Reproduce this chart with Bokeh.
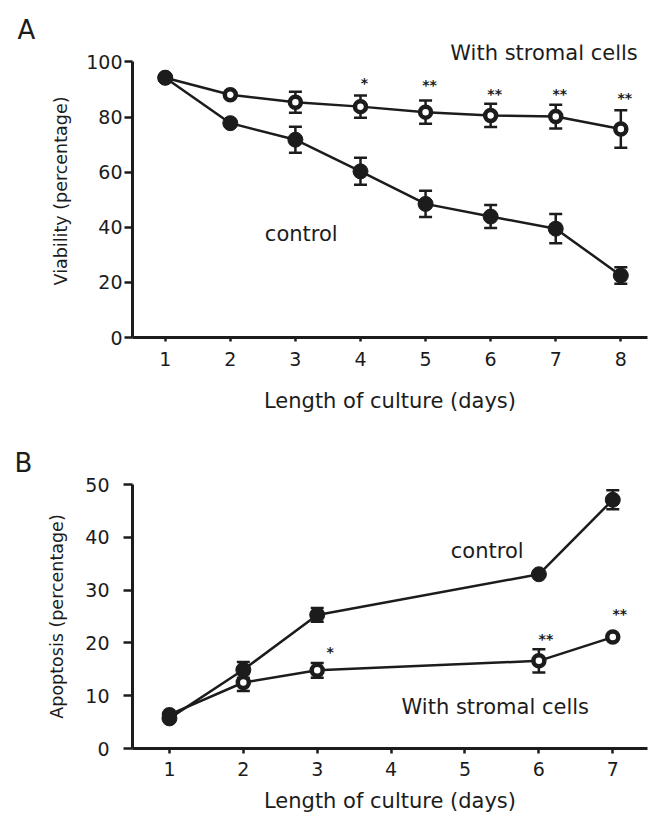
from bokeh.plotting import figure
from bokeh.models import ColumnDataSource, Whisker, TeeHead, Label, FixedTicker, Range1d, Title
from bokeh.layouts import column
from bokeh.embed import file_html
from bokeh.resources import INLINE
from bokeh.core.properties import value

# ---------------- data ----------------
# Panel A: viability (%)
days_a = [1, 2, 3, 4, 5, 6, 7, 8]
stromal_a = [94.3, 88.1, 85.4, 83.8, 81.8, 80.6, 80.2, 75.7]
stromal_a_err = [0, 0, 3.8, 4.0, 4.2, 4.2, 4.3, 6.8]
control_a = [94.3, 77.8, 71.8, 60.3, 48.5, 43.9, 39.5, 22.5]
control_a_err = [0, 0, 4.7, 4.9, 4.8, 4.2, 5.3, 3.0]
stars_a_days = [4, 5, 6, 7, 8]
stars_a_y = [92.4, 91.5, 88.4, 88.4, 86.9]
stars_a_text = ["*", "**", "**", "**", "**"]
yticks_a = [0, 20, 40, 60, 80, 100]

# Panel B: apoptosis (%)
days_b = [1, 2, 3, 6, 7]
control_b = [5.7, 14.9, 25.3, 33.0, 47.1]
control_b_err = [0, 1.5, 1.3, 0, 1.8]
stromal_b = [6.4, 12.5, 14.8, 16.6, 21.1]
stromal_b_err = [0, 1.6, 1.4, 2.2, 0]
stars_b_days = [3, 6, 7]
stars_b_y = [18.2, 20.8, 25.5]
stars_b_text = ["*", "**", "**"]
xticks_b = [1, 2, 3, 4, 5, 6, 7]
yticks_b = [0, 10, 20, 30, 40, 50]

FONT = "DejaVu Sans"
INK = "#1c1c1c"


def style_axes(p, xticks, yticks, xlabel, ylabel, y_tick_out, y_standoff, y_label_standoff,
               x_tick_out, x_standoff, x_label_standoff, y_bounds):
    p.outline_line_color = None
    p.xgrid.visible = False
    p.ygrid.visible = False
    p.background_fill_color = "white"
    p.border_fill_color = "white"
    for ax in (p.xaxis[0], p.yaxis[0]):
        ax.axis_line_width = 3
        ax.axis_line_color = INK
        ax.major_tick_line_color = INK
        ax.major_tick_line_width = 2.5
        ax.major_tick_in = 0
        ax.minor_tick_in = 0
        ax.minor_tick_out = 0
        ax.major_label_text_font = FONT
        ax.major_label_text_font_size = "19px"
        ax.major_label_text_color = INK
        ax.axis_label_text_font = FONT
        ax.axis_label_text_font_style = "normal"
        ax.axis_label_text_color = INK
    xa = p.xaxis[0]
    xa.ticker = FixedTicker(ticks=xticks)
    xa.major_tick_out = x_tick_out
    xa.major_label_standoff = x_standoff
    xa.axis_label = xlabel
    xa.axis_label_text_font_size = "21px"
    xa.axis_label_standoff = x_label_standoff
    ya = p.yaxis[0]
    ya.ticker = FixedTicker(ticks=yticks)
    ya.bounds = y_bounds
    ya.major_tick_out = y_tick_out
    ya.major_label_standoff = y_standoff
    ya.axis_label = ylabel
    ya.axis_label_text_font_size = "17.5px"
    ya.axis_label_standoff = y_label_standoff


def add_series(p, days, vals, errs):
    p.line(days, vals, line_width=2.5, line_color=INK)
    ex = [d for d, e in zip(days, errs) if e > 0]
    up = [v + e for v, e in zip(vals, errs) if e > 0]
    lo = [v - e for v, e in zip(vals, errs) if e > 0]
    src = ColumnDataSource(dict(x=ex, upper=up, lower=lo))
    w = Whisker(source=src, base="x", upper="upper", lower="lower",
                line_color=INK, line_width=2.5,
                upper_head=TeeHead(size=13, line_width=2.5, line_color=INK),
                lower_head=TeeHead(size=13, line_width=2.5, line_color=INK))
    p.add_layout(w)


def add_markers(p, days, vals, filled):
    if filled:
        p.scatter(days, vals, size=15, fill_color=INK, line_color=INK, line_width=1)
    else:
        p.scatter(days, vals, size=11, fill_color="white", line_color=INK, line_width=4.5)


def label(p, x, y, text, size, align="center"):
    p.add_layout(Label(x=x, y=y, text=text, text_font=FONT, text_font_size=size,
                       text_color=INK, text_align=align, text_baseline="middle"))


def panel_letter(p, text, offset, standoff):
    p.add_layout(Title(text=text, align="left", offset=offset, standoff=standoff,
                       text_font=FONT, text_font_size="26px", text_font_style="normal",
                       text_color=INK), "above")


# ---------------- Panel A ----------------
pa = figure(width=651, height=420, x_range=Range1d(0.497, 8.41), y_range=Range1d(0, 106.35),
            min_border_left=132, min_border_right=0, min_border_top=44, min_border_bottom=83,
            output_backend="svg", toolbar_location=None)
style_axes(pa, days_a, yticks_a, "Length of culture (days)", "Viability (percentage)",
           y_tick_out=8, y_standoff=2, y_label_standoff=12,
           x_tick_out=4, x_standoff=10, x_label_standoff=20, y_bounds=(0, 100))
add_series(pa, days_a, stromal_a, stromal_a_err)
add_series(pa, days_a, control_a, control_a_err)
add_markers(pa, days_a, stromal_a, False)
add_markers(pa, days_a, control_a, True)
pa.text(stars_a_days, stars_a_y, text=stars_a_text, x_offset=4, text_font=value(FONT),
        text_font_size="14px", text_font_style="bold", text_color=INK,
        text_align="center", text_baseline="middle")
label(pa, 3.09, 37.7, "control", "21px")
label(pa, 8.26, 103.4, "With stromal cells", "21px", align="right")
panel_letter(pa, "A", -115, 0)

# ---------------- Panel B ----------------
pb = figure(width=651, height=398, x_range=Range1d(0.5, 7.47), y_range=Range1d(0, 50),
            min_border_left=131, min_border_right=4, min_border_top=64, min_border_bottom=70,
            output_backend="svg", toolbar_location=None)
style_axes(pb, xticks_b, yticks_b, "Length of culture (days)", "Apoptosis (percentage)",
           y_tick_out=9, y_standoff=14, y_label_standoff=15,
           x_tick_out=5, x_standoff=8, x_label_standoff=10, y_bounds=(0, 50))
add_series(pb, days_b, stromal_b, stromal_b_err)
add_series(pb, days_b, control_b, control_b_err)
add_markers(pb, days_b, stromal_b, False)
add_markers(pb, days_b, control_b, True)
pb.text(stars_b_days, stars_b_y, text=stars_b_text, x_offset=[13, 7, 7], text_font=value(FONT),
        text_font_size="14px", text_font_style="bold", text_color=INK,
        text_align="center", text_baseline="middle")
label(pb, 5.30, 37.5, "control", "21px")
label(pb, 5.41, 7.9, "With stromal cells", "21px")
panel_letter(pb, "B", -118, 13)

layout = column(pa, pb, spacing=0)
open("out.html", "w").write(file_html(layout, INLINE))
